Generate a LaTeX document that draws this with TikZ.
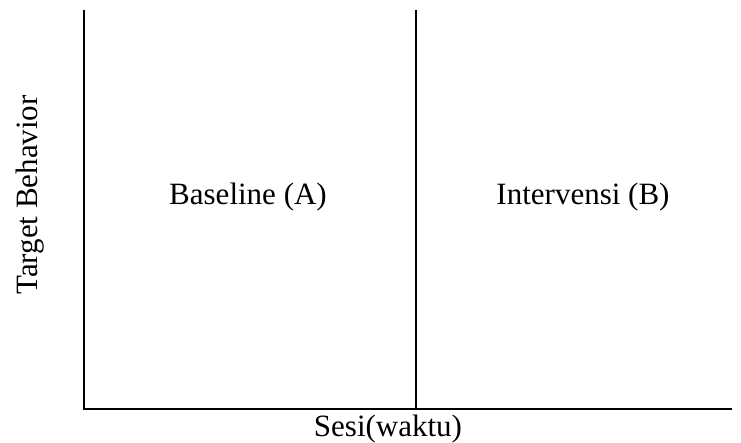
\documentclass[tikz,border=0pt]{standalone}
\usepackage{fontspec}
\setmainfont{Liberation Serif}
\begin{document}
\begin{tikzpicture}[x=1pt,y=-1pt,
  axis/.style={line width=1.6pt, black},
  lbl/.style={inner sep=0pt, font=\fontsize{31}{36}\selectfont}]
\useasboundingbox (0,0) rectangle (741,443);
\coordinate (top) at (84,10);
\coordinate (origin) at (84,409);
\coordinate (xend) at (732,409);
\coordinate (midtop) at (416,10);
\coordinate (midbot) at (416,409);
\draw[axis] (top) -- (origin) -- (xend);
\draw[axis] (midtop) -- (midbot);
\node[lbl, anchor=base] (base) at (248,205) {Baseline (A)};
\node[lbl, anchor=base] (interv) at (583,205) {Intervensi (B)};
\node[lbl, rotate=90, anchor=base] (yl) at (37,195) {Target Behavior};
\node[lbl, anchor=base] (xl) at (388,436) {Sesi(waktu)};
\end{tikzpicture}
\end{document}
